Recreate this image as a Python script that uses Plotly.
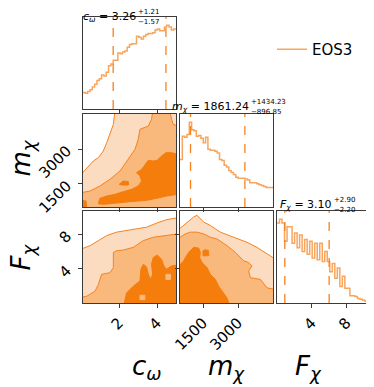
import numpy as np
import plotly.graph_objects as go

# parameter ranges shown on the axes
c_range = [0.1, 5.0]
m_range = [514, 4500]
F_range = [0.0, 10.7]

# marginal histograms (height relative to panel top)
c_hist = [0.18, 0.17, 0.19, 0.21, 0.24, 0.27, 0.31, 0.33, 0.37, 0.36,
          0.40, 0.47, 0.49, 0.53, 0.53, 0.61, 0.60, 0.62, 0.63, 0.67,
          0.70, 0.71, 0.71, 0.79, 0.78, 0.76, 0.79, 0.81, 0.82, 0.82,
          0.83, 0.86, 0.87, 0.85, 0.85, 0.89, 0.91, 0.89, 0.86, 0.87]
m_hist = [0.51, 0.76, 0.75, 0.78, 0.91, 0.83, 0.82, 0.76, 0.77, 0.74,
          0.69, 0.75, 0.62, 0.61, 0.61, 0.60, 0.58, 0.51, 0.50, 0.45,
          0.43, 0.39, 0.37, 0.35, 0.32, 0.31, 0.31, 0.31, 0.30, 0.29,
          0.26, 0.26, 0.26, 0.25, 0.24, 0.23, 0.22, 0.21, 0.21, 0.21]
F_hist = [0.87, 0.91, 0.87, 0.67, 0.83, 0.83, 0.65, 0.76, 0.60, 0.74,
          0.56, 0.69, 0.53, 0.67, 0.49, 0.65, 0.47, 0.65, 0.45, 0.56,
          0.45, 0.34, 0.43, 0.27, 0.38, 0.18, 0.29, 0.16, 0.16, 0.08,
          0.08, 0.07, 0.05, 0.04, 0.03, 0.02, 0.01]

# 16th / 50th / 84th percentiles
c_q = [1.69, 3.26, 4.47]
m_q = [964.39, 1861.24, 3295.47]
F_q = [0.90, 3.10, 6.00]

# credible-region outlines (c_omega vs m_chi)
cm_light = [(0.0, 1914), (0.38, 2271), (0.64, 2485), (0.91, 2628), (1.17, 2914),
            (1.35, 3271), (1.52, 3628), (1.70, 4057), (1.78, 4600), (5.1, 4600),
            (5.1, 400), (0.0, 400)]
cm_mid = [(0.0, 1127), (0.47, 1199), (0.99, 1414), (1.52, 1699), (2.05, 2057),
          (2.40, 2485), (2.84, 2985), (3.01, 3414), (3.10, 3843), (3.54, 3986),
          (3.71, 4271), (3.77, 4600), (4.68, 4600), (4.77, 4271), (4.85, 4057),
          (5.1, 3986), (5.1, 400), (0.0, 400)]
cm_dark = [(0.91, 656), (0.99, 885), (1.35, 985), (1.78, 1056), (2.22, 1171),
           (2.66, 1270), (3.01, 1414), (3.19, 1628), (3.10, 1842), (2.92, 1985),
           (3.19, 2128), (3.36, 2342), (3.54, 2514), (3.80, 2485), (4.01, 2514),
           (4.24, 2700), (4.47, 2842), (4.77, 2842), (5.1, 2771), (5.1, 1056),
           (4.50, 985), (3.98, 885), (3.45, 799), (2.57, 742), (1.70, 656),
           (1.17, 627)]
cm_dark_small = [(2.01, 1485), (2.22, 1628), (2.49, 1599), (2.49, 1456), (2.14, 1456)]
cm_dark_corner = [(0.0, 799), (0.26, 770), (0.29, 599), (0.29, 400), (0.0, 400)]

# c_omega vs F_chi
cF_light = [(0.0, 6.27), (0.47, 6.67), (0.91, 7.25), (1.35, 7.84), (1.87, 8.24),
            (2.40, 8.43), (2.92, 8.63), (3.45, 8.82), (3.98, 9.29), (4.50, 9.69),
            (5.1, 9.92), (5.1, -0.5), (0.0, -0.5)]
cF_mid = [(0.0, 0.67), (0.29, 0.78), (0.73, 1.37), (0.91, 2.16), (1.08, 3.33),
          (1.52, 3.53), (1.70, 4.12), (1.70, 5.88), (1.87, 6.08), (2.22, 6.16),
          (2.75, 6.47), (3.27, 7.25), (3.80, 7.65), (4.33, 7.84), (5.1, 8.04),
          (5.1, -0.5), (0.0, -0.5)]
cF_dark = [(2.22, -0.5), (2.40, 1.18), (2.75, 1.96), (3.10, 2.55), (3.15, 3.92),
           (3.28, 4.51), (3.45, 4.20), (3.54, 3.33), (3.66, 2.75), (3.77, 3.33),
           (3.71, 4.51), (3.80, 5.29), (4.01, 5.57), (4.24, 5.10), (4.36, 4.31),
           (4.50, 3.92), (4.77, 4.31), (5.1, 4.43), (5.1, -0.5)]
cF_holes = [[(3.10, 0.39), (3.36, 0.39), (3.36, 0.90), (3.10, 0.90)],
            [(4.47, 2.75), (4.71, 2.75), (4.71, 3.33), (4.47, 3.33)]]

# m_chi vs F_chi
mF_light = [(400, 8.43), (814, 9.41), (1100, 10.0), (1243, 10.2), (1386, 9.80),
            (1528, 9.41), (1814, 9.02), (2243, 8.24), (2814, 7.65), (3386, 7.06),
            (3815, 6.47), (4244, 5.69), (4600, 5.10), (4600, -0.5), (400, -0.5)]
mF_mid = [(400, 7.45), (743, 8.04), (957, 8.24), (1243, 8.24), (1528, 8.04),
          (1814, 7.65), (2100, 7.45), (2529, 6.67), (2886, 5.88), (3029, 5.49),
          (3243, 4.90), (3457, 4.71), (3600, 4.31), (3457, 3.73), (3529, 2.94),
          (3958, 2.75), (4244, 1.76), (4600, 1.57), (4600, -0.5), (400, -0.5)]
mF_dark = [(400, 4.12), (671, 4.90), (743, 5.29), (886, 5.88), (1100, 6.47),
           (1314, 6.39), (1386, 5.88), (1357, 5.29), (1457, 4.71), (1671, 4.12),
           (1814, 3.33), (2029, 2.75), (2171, 1.96), (2314, 1.37), (2529, 0.59),
           (2672, -0.5), (400, -0.5)]
mF_dark_small = [(1500, 5.49), (1743, 5.49), (1743, 6.08), (1600, 6.2), (1500, 6.08)]

LIGHT = "#fcdcc0"
MID = "#f9b87c"
DARK = "#f57d0c"
EDGE = "#f5821f"
HIST = "rgba(245,135,40,0.75)"

fig = go.Figure()


def add_poly(pts, color, ax, edge=EDGE):
    xs = [p[0] for p in pts] + [pts[0][0]]
    ys = [p[1] for p in pts] + [pts[0][1]]
    fig.add_trace(go.Scatter(x=xs, y=ys, mode="lines", fill="toself", fillcolor=color,
                             line=dict(color=edge, width=1), hoverinfo="skip",
                             showlegend=False, xaxis="x" + ax, yaxis="y" + ax))


def add_hist(vals, rng, q, ax, legend=False):
    edges = np.linspace(rng[0], rng[1], len(vals) + 1)
    fig.add_trace(go.Scatter(x=edges, y=list(vals) + [vals[-1]], mode="lines",
                             line=dict(color=HIST, width=1.5, shape="hv"),
                             name="EOS3", showlegend=legend, hoverinfo="skip",
                             xaxis="x" + ax, yaxis="y" + ax))
    for v in (q[0], q[2]):
        fig.add_trace(go.Scatter(x=[v, v], y=[0, 1], mode="lines",
                                 line=dict(color=EDGE, width=1.3, dash="dash"),
                                 showlegend=False, hoverinfo="skip",
                                 xaxis="x" + ax, yaxis="y" + ax))


add_hist(c_hist, c_range, c_q, "", legend=True)
add_poly(cm_light, LIGHT, "2")
add_poly(cm_mid, MID, "2")
add_poly(cm_dark, DARK, "2", DARK)
add_poly(cm_dark_small, DARK, "2", DARK)
add_poly(cm_dark_corner, DARK, "2", DARK)
add_poly(cF_light, LIGHT, "3")
add_poly(cF_mid, MID, "3")
add_poly(cF_dark, DARK, "3", DARK)
for h in cF_holes:
    add_poly(h, MID, "3", MID)
add_hist(m_hist, m_range, m_q, "4")
add_poly(mF_light, LIGHT, "5")
add_poly(mF_mid, MID, "5")
add_poly(mF_dark, DARK, "5", DARK)
add_poly(mF_dark_small, DARK, "5", DARK)
add_hist(F_hist, F_range, F_q, "6")

# page body adds an 8px margin, so the figure is shrunk and positions shifted
OFF = 8
W, H = 374 - OFF, 387 - OFF
cols = [(83, 176), (180, 273), (277, 370)]
rows = [(17, 109), (114, 207), (211, 303)]


def px(p):
    return (p - OFF) / W


def py(p):
    return 1 - (p - OFF) / H


def xd(i):
    return [px(cols[i][0]), px(cols[i][1])]


def yd(j):
    return [py(rows[j][1]), py(rows[j][0])]


tick_font = dict(family="DejaVu Sans", size=15, color="black")
base = dict(showgrid=False, zeroline=False, showline=True, mirror=True,
            linecolor="#3a3a3a", linewidth=1.2, ticks="outside", ticklen=4,
            tickcolor="#3a3a3a", tickfont=tick_font, tickangle=-45, automargin=False)


def axis(dom, rng, vals, labels, anchor, standoff=0):
    d = dict(base)
    d.update(domain=dom, range=rng, tickvals=vals, showticklabels=labels, anchor=anchor,
             ticklabelstandoff=standoff)
    if not vals:
        d.update(ticks="")
    return d


fig.update_layout(
    width=W, height=H, margin=dict(l=0, r=0, t=0, b=0, autoexpand=False),
    plot_bgcolor="white", paper_bgcolor="white",
    font=dict(family="DejaVu Sans", color="black"),
    xaxis=axis(xd(0), c_range, [2, 4], False, "y"),
    yaxis=axis(yd(0), [0, 1], [], False, "x"),
    xaxis2=axis(xd(0), c_range, [2, 4], False, "y2"),
    yaxis2=axis(yd(1), m_range, [1500, 3000], True, "x2", 8),
    xaxis3=axis(xd(0), c_range, [2, 4], True, "y3"),
    yaxis3=axis(yd(2), F_range, [4, 8], True, "x3", 8),
    xaxis4=axis(xd(1), m_range, [1500, 3000], False, "y4"),
    yaxis4=axis(yd(1), [0, 1], [], False, "x4"),
    xaxis5=axis(xd(1), m_range, [1500, 3000], True, "y5"),
    yaxis5=axis(yd(2), F_range, [4, 8], False, "x5"),
    xaxis6=axis(xd(2), F_range, [4, 8], True, "y6"),
    yaxis6=axis(yd(2), [0, 1], [], False, "x6"),
    legend=dict(x=px(272), y=py(33), xanchor="left", yanchor="top",
                font=dict(size=15, family="DejaVu Sans"), bgcolor="rgba(0,0,0,0)"),
)

# hist titles: value with upper / lower errors stacked to its right
titles = [("<i>c<sub>ω</sub></i> = 3.26", "+1.21", "−1.57", 137, 17),
          ("<i>m<sub>χ</sub></i> = 1861.24", "+1434.23", "−896.85", 250, 107),
          ("<i>F<sub>χ</sub></i> = 3.10", "+2.90", "−2.20", 333, 205)]
for main, up, lo, xp, yp in titles:
    fig.add_annotation(text=main, x=px(xp), y=py(yp), xref="paper", yref="paper",
                       xanchor="right", yanchor="middle", showarrow=False,
                       font=dict(size=11), borderpad=0)
    fig.add_annotation(text=up, x=px(xp), y=py(yp - 5), xref="paper", yref="paper",
                       xanchor="left", yanchor="middle", showarrow=False,
                       font=dict(size=7), borderpad=0)
    fig.add_annotation(text=lo, x=px(xp), y=py(yp + 4.5), xref="paper", yref="paper",
                       xanchor="left", yanchor="middle", showarrow=False,
                       font=dict(size=7), borderpad=0)

# axis labels
big = dict(size=26, family="DejaVu Sans")
for txt, xp in [("<i>c<sub>ω</sub></i>", 129.5), ("<i>m<sub>χ</sub></i>", 226.5),
                ("<i>F<sub>χ</sub></i>", 323.5)]:
    fig.add_annotation(text=txt, x=px(xp), y=py(386), xref="paper", yref="paper",
                       showarrow=False, font=big)
for txt, yp in [("<i>m<sub>χ</sub></i>", 158), ("<i>F<sub>χ</sub></i>", 257)]:
    fig.add_annotation(text=txt, x=px(3), y=py(yp), xref="paper", yref="paper",
                       showarrow=False, font=big, textangle=-90)

fig.write_html("out.html")
